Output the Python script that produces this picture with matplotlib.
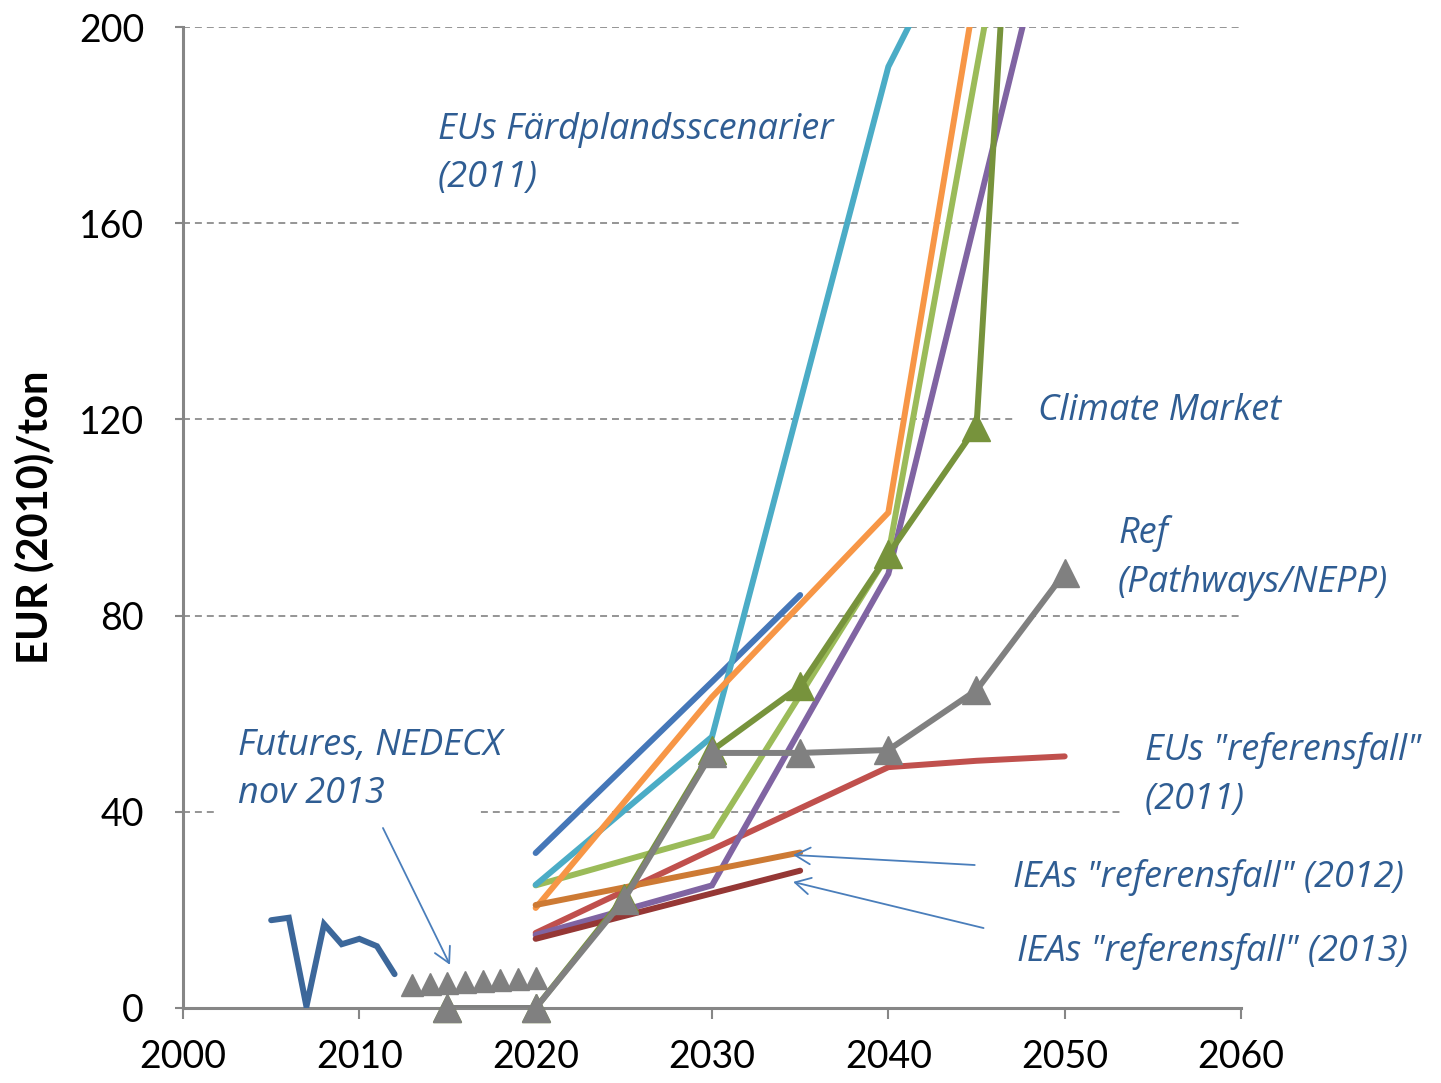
# Koldioxidpris: historik, terminer och scenarier
import matplotlib
matplotlib.use('Agg')
import matplotlib.pyplot as plt
import numpy as np
from matplotlib.patches import Rectangle

plt.rcParams['font.family'] = ['Lato', 'DejaVu Sans']

# Historiska priser (EUA)
hist_years = [2005, 2006, 2007, 2008, 2009, 2010, 2011, 2012]
hist_vals = [17.9, 18.4, 0.3, 17.1, 13.0, 14.1, 12.6, 6.9]

# Futures, NEDECX nov 2013
fut_years = [2013, 2014, 2015, 2016, 2017, 2018, 2019, 2020]
fut_vals = [4.7, 4.9, 5.1, 5.3, 5.5, 5.7, 5.9, 6.1]

# EUs färdplansscenarier (2011)
eu_a_years = [2020, 2030, 2035]
eu_a_vals = [31.6, 66.5, 84.2]
eu_b_years = [2020, 2030, 2040, 2050]
eu_b_vals = [25.1, 55.3, 191.9, 263.0]
eu_c_years = [2020, 2030, 2040, 2050]
eu_c_vals = [20.4, 63.4, 101.0, 316.0]
eu_d_years = [2020, 2030, 2040, 2050]
eu_d_vals = [25.0, 35.1, 92.5, 290.0]
eu_e_years = [2020, 2030, 2040, 2050]
eu_e_vals = [14.9, 25.0, 88.5, 235.0]

# EUs referensfall (2011)
eu_ref_years = [2020, 2030, 2040, 2045, 2050]
eu_ref_vals = [15.3, 32.3, 49.1, 50.4, 51.3]

# IEA referensfall
iea12_years = [2020, 2035]
iea12_vals = [21.0, 31.7]
iea13_years = [2020, 2035]
iea13_vals = [14.1, 28.0]

# Climate Market och Ref (Pathways/NEPP)
cm_years = [2015, 2020, 2025, 2030, 2035, 2040, 2045, 2050]
cm_vals = [0, 0, 22.5, 52.5, 65.6, 92.5, 118.5, 418.0]
ref_years = [2015, 2020, 2025, 2030, 2035, 2040, 2045, 2050]
ref_vals = [0, 0, 22.0, 52.0, 52.0, 52.6, 64.8, 88.7]

W, H = 1441, 1083
fig = plt.figure(figsize=(W / 100, H / 100), dpi=100)
ax = fig.add_axes([183 / W, 1 - 1008 / H, (1241 - 183) / W, (1008 - 27) / H])

axis_col = '#868686'
txt_col = '#2F5D93'
lw = 4.3

ax.set_xlim(2000, 2060)
ax.set_ylim(0, 200)
ax.set_xticks(range(2000, 2061, 10))
ax.set_yticks(range(0, 201, 40))
ax.set_axisbelow(True)
ax.yaxis.grid(True, color='#8c8c8c', linewidth=1.3, linestyle=(0, (3.85, 2.75)))
for s in ['top', 'right']:
    ax.spines[s].set_visible(False)
for s in ['left', 'bottom']:
    ax.spines[s].set_color(axis_col)
    ax.spines[s].set_linewidth(2.2)
ax.tick_params(axis='both', colors=axis_col, width=1.5, direction='out', labelcolor='black')
ax.tick_params(axis='y', length=6, pad=22, labelsize=27)
ax.tick_params(axis='x', length=8, pad=14, labelsize=27)
ax.set_ylabel('EUR (2010)/ton', fontsize=30, fontweight='bold')
ax.yaxis.set_label_coords((54 - 183) / 1058, 0.5)

# vita bakgrunder bakom textrutorna
for x0, x1, yc in [(2001.8, 2016.7, 40), (2047.3, 2060.5, 120), (2053.2, 2060.5, 40)]:
    ax.add_patch(Rectangle((x0, yc - 1.5), x1 - x0, 3, facecolor='white', edgecolor='none', zorder=1))

def line(xs, ys, color, z):
    ax.plot(xs, ys, color=color, linewidth=lw, solid_capstyle='round', solid_joinstyle='miter', zorder=z)

line(eu_a_years, eu_a_vals, '#4577B8', 2)
line(eu_ref_years, eu_ref_vals, '#C0504D', 3)
line(eu_e_years, eu_e_vals, '#8064A2', 4)
line(eu_d_years, eu_d_vals, '#9BBB59', 5)
line(eu_b_years, eu_b_vals, '#4BACC6', 6)
line(eu_c_years, eu_c_vals, '#F79646', 7)
line(iea12_years, iea12_vals, '#CD7A34', 8)
line(iea13_years, iea13_vals, '#953735', 9)

def tri_line(xs, ys, color, z, ms):
    ax.plot(xs, ys, color=color, linewidth=lw, solid_joinstyle='miter', zorder=z)
    ys = np.array(ys, dtype=float)
    keep = ys <= 200
    ax.plot(np.array(xs)[keep], ys[keep], linestyle='none', marker='^', markersize=ms,
            color=color, markeredgecolor=color, clip_on=False, zorder=z)

tri_line(cm_years, cm_vals, '#77933C', 10, 19.5)
tri_line(ref_years, ref_vals, '#808080', 11, 19.5)

ax.plot(fut_years, fut_vals, linestyle='none', marker='^', markersize=16, color='#808080', zorder=12)
line(hist_years, hist_vals, '#3C679A', 13)

# pilar
arrow = dict(arrowstyle='->,head_length=0.55,head_width=0.3', color='#4A7EBB', lw=1.3,
             mutation_scale=20, shrinkA=0, shrinkB=0)
ax.annotate('', xy=(2015.14, 8.8), xytext=(2011.34, 36.7), arrowprops=arrow, zorder=14)
ax.annotate('', xy=(2034.6, 31.2), xytext=(2044.9, 29.15), arrowprops=arrow, zorder=14)
ax.annotate('', xy=(2034.6, 25.7), xytext=(2045.4, 16.3), arrowprops=arrow, zorder=14)

def label(x, y, s):
    fig.text(x / W, 1 - y / H, s, fontsize=26, style='italic', color=txt_col,
             family=['Open Sans', 'DejaVu Sans'], ha='left', va='center',
             linespacing=1.45, zorder=15)

label(438, 154, 'EUs Färdplandsscenarier\n(2011)')
label(1038, 411, 'Climate Market')
label(1118, 558, 'Ref\n(Pathways/NEPP)')
label(1145, 775, 'EUs "referensfall"\n(2011)')
label(1013, 878, 'IEAs "referensfall" (2012)')
label(1017, 951, 'IEAs "referensfall" (2013)')
label(238, 770, 'Futures, NEDECX\nnov 2013')

fig.savefig('out.png', dpi=100)
